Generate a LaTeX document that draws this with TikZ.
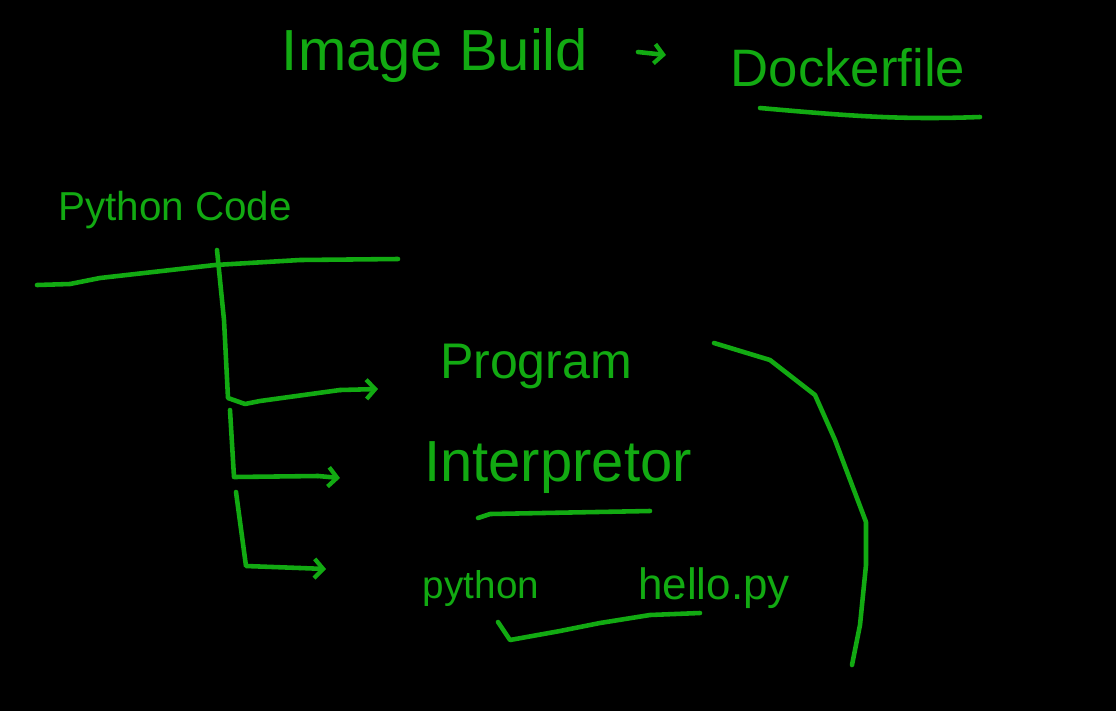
\documentclass[tikz,border=0pt]{standalone}
\usepackage{fontspec}
\setmainfont{Liberation Sans}
\usetikzlibrary{arrows.meta}
\definecolor{ink}{RGB}{18,170,18}
\begin{document}
\begin{tikzpicture}[x=0.02cm,y=-0.02cm,
  stroke/.style={draw=ink,line width=2.6pt,line cap=round,line join=round},
  tip/.style={-{Straight Barb[length=5pt,width=11pt,line width=2.4pt]}},
  lbl/.style={text=ink,inner sep=0pt,font=\fontsize{#1}{#1}\selectfont}]
\useasboundingbox (0,0) rectangle (1116,711);
\fill[black] (0,0) rectangle (1116,711);
% texts
\node[lbl=33] (ib) at (435,56) {Image Build};
\node[lbl=30] (df) at (848,68) {Dockerfile};
\node[lbl=23] (pc) at (175,210) {Python Code};
\node[lbl=28.5] (pg) at (536,366) {Program};
\node[lbl=33] (ip) at (558,468) {Interpretor};
\node[lbl=22] (py) at (481,588) {python};
\node[lbl=25] (hp) at (714,588) {hello.py};
% arrow in title
\coordinate (a1) at (638,52);
\coordinate (a2) at (666,55);
\draw[stroke,tip] (a1) -- (a2);
% Dockerfile underline
\coordinate (d1) at (760,108);
\coordinate (d2) at (980,117);
\draw[stroke] (d1) .. controls (850,116) and (900,120) .. (d2);
% Python Code underline
\coordinate (u1) at (37,285);
\coordinate (u2) at (398,259);
\draw[stroke] (u1) -- (70,284) -- (100,278) -- (215,265) -- (300,260) -- (u2);
% tree
\coordinate (t0) at (217,250);
\coordinate (t1) at (228,398);
\coordinate (e1) at (378,389);
\draw[stroke] (t0) -- (224,320) -- (t1) -- (245,404) -- (260,401) -- (340,390);
\draw[stroke,tip] (340,390) -- (e1);
\coordinate (t2) at (230,410);
\coordinate (t3) at (234,477);
\coordinate (e2) at (340,478);
\draw[stroke] (t2) -- (t3) -- (318,476);
\draw[stroke,tip] (318,476) -- (e2);
\coordinate (t4) at (236,492);
\coordinate (t5) at (246,566);
\coordinate (e3) at (326,569);
\draw[stroke] (t4) -- (t5) -- (300,568);
\draw[stroke,tip] (300,568) -- (e3);
% Interpretor underline
\coordinate (i1) at (478,518);
\coordinate (i2) at (650,511);
\draw[stroke] (i1) -- (490,514) -- (i2);
% python hello.py bracket
\coordinate (b1) at (498,622);
\coordinate (b2) at (700,613);
\draw[stroke] (b1) -- (510,640) -- (560,631) -- (600,623) -- (650,615) -- (b2);
% big curve
\coordinate (c1) at (714,343);
\coordinate (c2) at (852,665);
\draw[stroke] (c1) -- (770,360) -- (815,395) -- (835,440) -- (866,522) -- (866,565) -- (860,625) -- (c2);
\end{tikzpicture}
\end{document}
